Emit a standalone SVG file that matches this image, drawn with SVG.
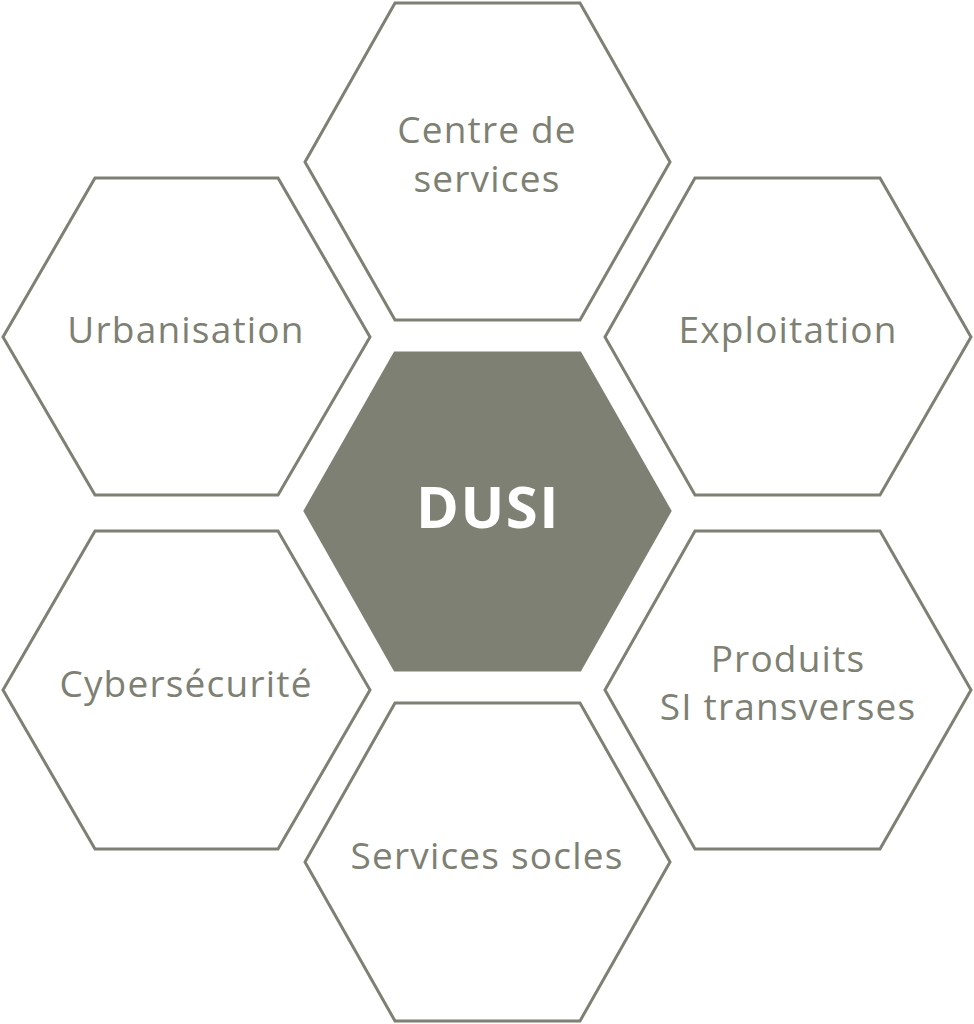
<svg xmlns="http://www.w3.org/2000/svg" width="974" height="1024" viewBox="0 0 974 1024">
<style>
.h{fill:#fff;stroke:#7d8072;stroke-width:3;stroke-linejoin:miter}
.c{fill:#7d8072;stroke:#7d8072;stroke-width:3}
.t{font-family:"Open Sans",sans-serif;font-size:37px;letter-spacing:1.2px;fill:#7d8072;text-anchor:middle}
.d{font-family:"Open Sans",sans-serif;font-size:58px;font-weight:bold;letter-spacing:1.5px;fill:#fff;text-anchor:middle}
</style>
<rect width="974" height="1024" fill="#fff"/>
<g id="connectors"></g>
<g id="centre-services"><polygon class="h" points="395,3 580,3 670,162 580,320 395,320 305,162"/><text class="t" x="487" y="143">Centre de</text><text class="t" x="487" y="192">services</text></g>
<g id="urbanisation"><polygon class="h" points="95,178 278,178 370,337 278,495 95,495 3,337"/><text class="t" x="186" y="343">Urbanisation</text></g>
<g id="exploitation"><polygon class="h" points="695,178 880,178 971,337 880,495 695,495 605,337"/><text class="t" x="788" y="343">Exploitation</text></g>
<g id="dusi"><polygon class="c" points="395,353 580,353 670,511 580,670 395,670 305,511"/><text class="d" x="488" y="528">DUSI</text></g>
<g id="cybersecurite"><polygon class="h" points="95,531 278,531 370,690 278,849 95,849 3,690"/><text class="t" x="186" y="697">Cybersécurité</text></g>
<g id="produits"><polygon class="h" points="695,531 880,531 971,690 880,849 695,849 605,690"/><text class="t" x="788" y="672">Produits</text><text class="t" x="788" y="720">SI transverses</text></g>
<g id="services-socles"><polygon class="h" points="395,703 580,703 670,862 580,1021 395,1021 305,862"/><text class="t" x="487" y="869">Services socles</text></g>
</svg>
